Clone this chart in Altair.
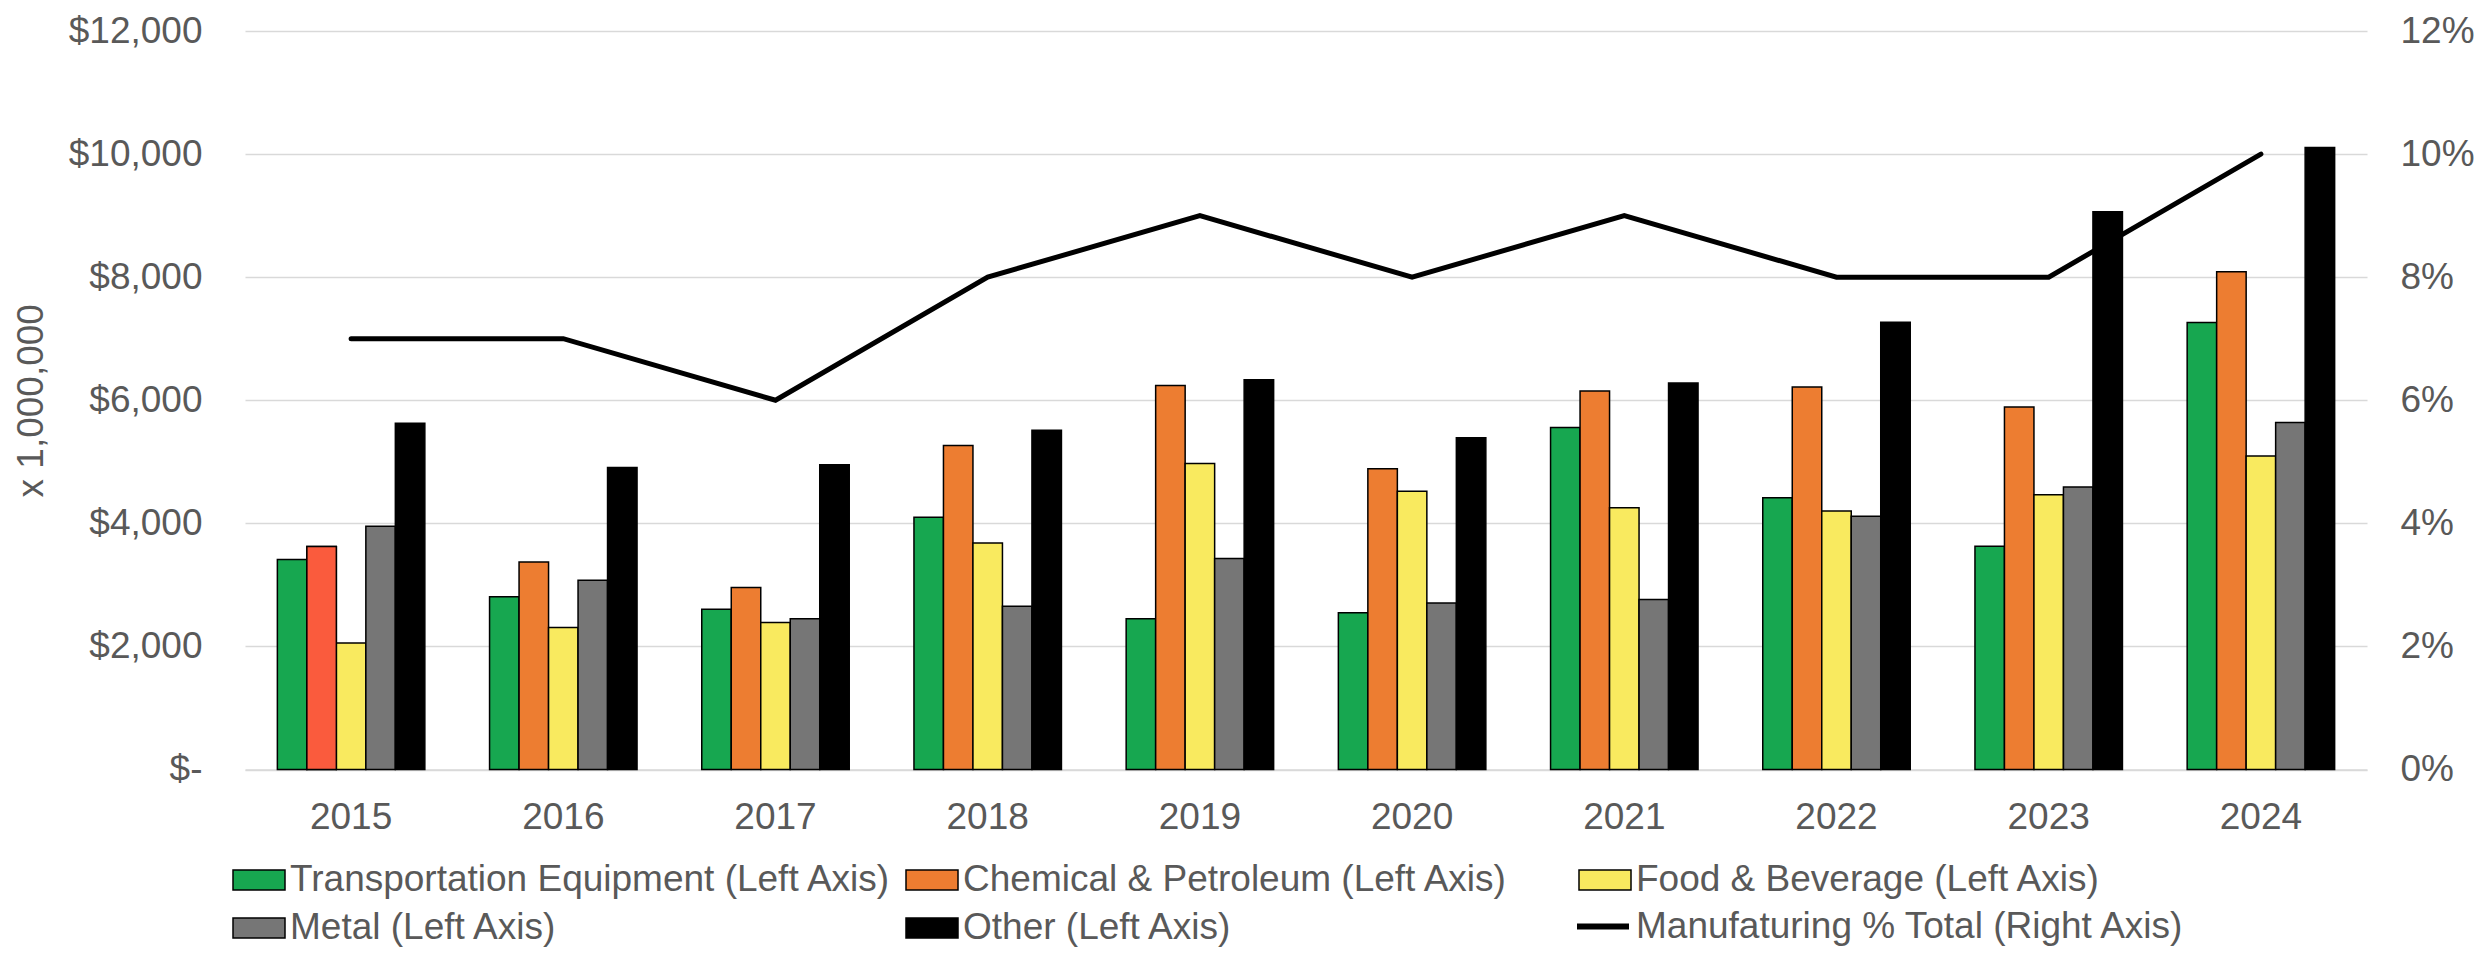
import altair as alt
import pandas as pd

years = ["2015", "2016", "2017", "2018", "2019", "2020", "2021", "2022", "2023", "2024"]
series = [
    "Transportation Equipment (Left Axis)",
    "Chemical & Petroleum (Left Axis)",
    "Food & Beverage (Left Axis)",
    "Metal (Left Axis)",
    "Other (Left Axis)",
]
transport = [3413, 2807, 2603, 4099, 2448, 2549, 5557, 4415, 3627, 7265]
chemical = [3622, 3370, 2957, 5263, 6238, 4887, 6152, 6217, 5890, 8089]
food = [2056, 2308, 2389, 3681, 4973, 4523, 4254, 4201, 4464, 5093]
metal = [3954, 3075, 2448, 2651, 3429, 2705, 2764, 4115, 4592, 5639]
other = [5627, 4909, 4951, 5514, 6334, 5391, 6281, 7268, 9064, 10108]
pct = [0.07, 0.07, 0.06, 0.08, 0.09, 0.08, 0.09, 0.08, 0.08, 0.10]
line_name = "Manufaturing % Total (Right Axis)"

colors = ["#17A750", "#ED7D31", "#F9EA5F", "#767676", "#000000"]
highlight_year = "2015"
highlight_series = "Chemical & Petroleum (Left Axis)"
highlight_color = "#FA5B3D"

left_ticks = [0, 2000, 4000, 6000, 8000, 10000, 12000]
right_ticks = [0, 0.02, 0.04, 0.06, 0.08, 0.10, 0.12]

rows = []
for i, yr in enumerate(years):
    for s, vals in zip(series, [transport, chemical, food, metal, other]):
        rows.append({"year": yr, "series": s, "value": vals[i]})
bars_df = pd.DataFrame(rows)
hl_df = bars_df[(bars_df["year"] == highlight_year) & (bars_df["series"] == highlight_series)]
line_df = pd.DataFrame({"year": years, "pct": pct, "name": [line_name] * len(years)})

FONT = "Liberation Sans"
TXT = "#595959"
GRID = "#D9D9D9"
FS = 37

x_enc = alt.X(
    "year:N", sort=years,
    scale=alt.Scale(paddingInner=0.305, paddingOuter=0.1525),
    axis=alt.Axis(title=None, labelAngle=0, labelFontSize=FS, labelColor=TXT, labelFont=FONT,
                  labelPadding=30, ticks=False, domainColor=GRID, domainWidth=1.5),
)
xoff = alt.XOffset("series:N", sort=series,
                   scale=alt.Scale(domain=series, paddingInner=0, paddingOuter=0))
y_left = alt.Y(
    "value:Q",
    scale=alt.Scale(domain=[0, 12000], nice=False),
    axis=alt.Axis(values=left_ticks,
                  labelExpr="datum.value == 0 ? '$-\u00a0\u00a0' : '$' + format(datum.value, ',')",
                  title="x 1,000,000", titleFontSize=FS, titleFont=FONT, titleColor=TXT,
                  titleFontWeight="normal", titlePadding=18,
                  labelFontSize=FS, labelColor=TXT, labelFont=FONT, labelPadding=43,
                  ticks=False, domain=False, grid=True, gridColor=GRID, gridWidth=1.5),
)

rect_symbol = "M-1,-0.3846H1V0.3846H-1Z"

bars = alt.Chart(bars_df).mark_bar(stroke="black", strokeWidth=1.5).encode(
    x=x_enc,
    xOffset=xoff,
    y=y_left,
    color=alt.Color(
        "series:N", sort=series,
        scale=alt.Scale(domain=series, range=colors),
        legend=alt.Legend(title=None, orient="none", direction="horizontal",
                          legendX=-13, legendY=822,
                          columns=3, gridAlign="all", columnPadding=11, rowPadding=3,
                          labelFontSize=FS, labelFont=FONT, labelColor=TXT, labelLimit=2000,
                          labelOffset=4, symbolType=rect_symbol, symbolSize=2704,
                          symbolStrokeColor="black", symbolStrokeWidth=1.5, symbolOpacity=1,
                          padding=0),
    ),
)

hl = alt.Chart(hl_df).mark_bar(stroke="black", strokeWidth=1.5).encode(
    x=x_enc,
    xOffset=xoff,
    y=y_left,
    color=alt.value(highlight_color),
)

line = alt.Chart(line_df).mark_line(strokeWidth=5, strokeCap="round").encode(
    x=x_enc,
    y=alt.Y("pct:Q", scale=alt.Scale(domain=[0, 0.12], nice=False),
            axis=alt.Axis(orient="right", values=right_ticks, format=".0%", title=None,
                          labelFontSize=FS, labelColor=TXT, labelFont=FONT, labelPadding=33,
                          ticks=False, domain=False, grid=False)),
    stroke=alt.Stroke("name:N", scale=alt.Scale(domain=[line_name], range=["black"]),
                      legend=alt.Legend(title=None, orient="none", legendX=1329, legendY=866.5,
                                        labelFontSize=FS, labelFont=FONT, labelColor=TXT,
                                        labelLimit=2000, labelOffset=4, symbolType="stroke",
                                        symbolSize=2704, symbolStrokeWidth=6, padding=0)),
)

chart = alt.layer(alt.layer(bars, hl), line).resolve_scale(y="independent").properties(
    width=2122, height=738.5,
    autosize=alt.AutoSizeParams(type="none"),
    padding={"left": 237, "top": 23, "right": 110, "bottom": 179},
    background="white",
).configure_view(stroke=None)

chart.save("out.html", embed_options={"renderer": "svg", "actions": False})
